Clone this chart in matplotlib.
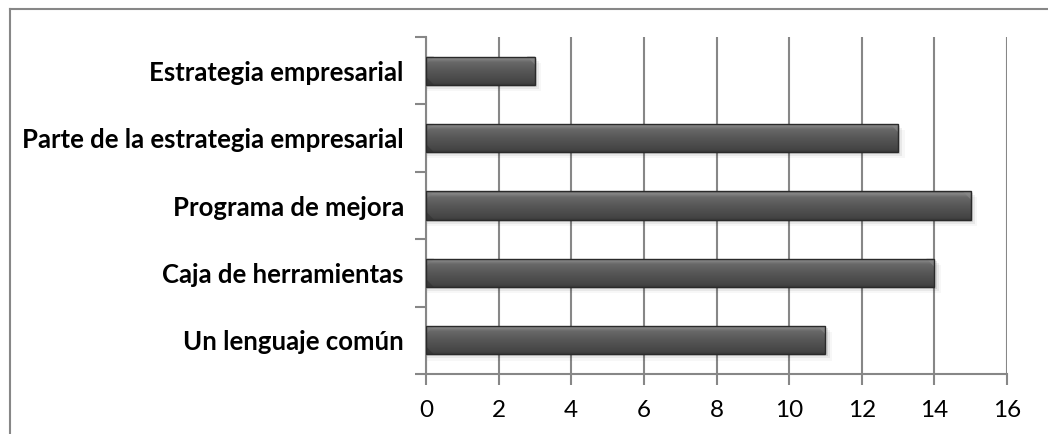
import matplotlib
matplotlib.use('Agg')
import matplotlib.pyplot as plt
import numpy as np
from matplotlib.patches import Rectangle, Polygon
from matplotlib.colors import LinearSegmentedColormap
from matplotlib.lines import Line2D

# data (bottom to top)
categories = ["Un lenguaje común", "Caja de herramientas", "Programa de mejora",
              "Parte de la estrategia empresarial", "Estrategia empresarial"]
values = [11, 14, 15, 13, 3]
x_ticks = [0, 2, 4, 6, 8, 10, 12, 14, 16]

GRID = '#878787'
BAR_H = 0.42

fig = plt.figure(figsize=(10.48, 4.34), dpi=100)
ax = fig.add_axes([426 / 1048, 1 - 374 / 434, (1007 - 426) / 1048, (374 - 37) / 434])

# outer chart border (only top and left visible in the crop)
fig.add_artist(Line2D([9.5 / 1048, 9.5 / 1048], [0, 1 - 8.5 / 434], color=GRID, lw=1.5,
                      transform=fig.transFigure))
fig.add_artist(Line2D([9.5 / 1048, 1], [1 - 8.5 / 434, 1 - 8.5 / 434], color=GRID, lw=1.5,
                      transform=fig.transFigure))

# vertical gradient for the bars: light top, dark bottom
grad_cmap = LinearSegmentedColormap.from_list('bar', [
    (0.0, '#3a3a3a'), (0.08, '#444444'), (0.45, '#555555'),
    (0.8, '#686868'), (0.93, '#8a8a8a'), (1.0, '#5a5a5a')])
grad = np.linspace(0, 1, 64).reshape(-1, 1)

ypos = np.arange(len(categories))
for y, v in zip(ypos, values):
    y0, y1 = y - BAR_H / 2, y + BAR_H / 2
    # soft shadow
    for k, a in enumerate([0.10, 0.06, 0.03]):
        d = 0.03 * (k + 1)
        ax.add_patch(Rectangle((0, y0 - d), v + 0.06 * (k + 1), BAR_H, color='k', alpha=a,
                               lw=0, zorder=2))
    rect = Rectangle((0, y0), v, BAR_H, facecolor='none', edgecolor='#2a2a2a', lw=1.0, zorder=4)
    ax.add_patch(rect)
    im = ax.imshow(grad, cmap=grad_cmap, aspect='auto', extent=(0, v, y0, y1),
                   origin='lower', zorder=3, interpolation='bicubic')
    im.set_clip_path(rect)
    # bevel ends (lighter triangles at the corners)
    bw = 0.22
    ax.add_patch(Polygon([(v, y1), (v - bw, y1), (v, y1 - 0.12)],
                         closed=True, facecolor='#8a8a8a', alpha=0.6, lw=0, zorder=3.5))
    ax.add_patch(Polygon([(0, y1), (bw, y1), (0, y1 - 0.12)],
                         closed=True, facecolor='#7a7a7a', alpha=0.5, lw=0, zorder=3.5))
    ax.add_patch(Polygon([(0, y0), (bw, y0), (0, y0 + 0.12)],
                         closed=True, facecolor='#2e2e2e', alpha=0.5, lw=0, zorder=3.5))

ax.set_xlim(0, 16)
ax.set_ylim(-0.5, len(categories) - 0.5)

ax.set_xticks(x_ticks)
ax.set_xticklabels([str(t) for t in x_ticks], fontsize=17.5, family='Lato')
ax.xaxis.grid(True, color=GRID, lw=1.5, zorder=1)
ax.set_axisbelow(True)

# tick marks between categories, labels at centres
ax.set_yticks(np.arange(-0.5, len(categories), 1.0))
ax.set_yticklabels([])
ax.set_yticks(ypos, minor=True)
ax.set_yticklabels(categories, minor=True, fontsize=18.5, fontweight='bold', family='Lato')
ax.tick_params(axis='y', which='minor', length=0, pad=16)
ax.tick_params(axis='y', which='major', length=8, width=1.5, color=GRID, direction='out')
ax.tick_params(axis='x', length=8, width=1.5, color=GRID, direction='out', pad=11)

for s in ['top', 'right']:
    ax.spines[s].set_visible(False)
for s in ['left', 'bottom']:
    ax.spines[s].set_color(GRID)
    ax.spines[s].set_linewidth(1.5)

fig.savefig('out.png', dpi=100)
